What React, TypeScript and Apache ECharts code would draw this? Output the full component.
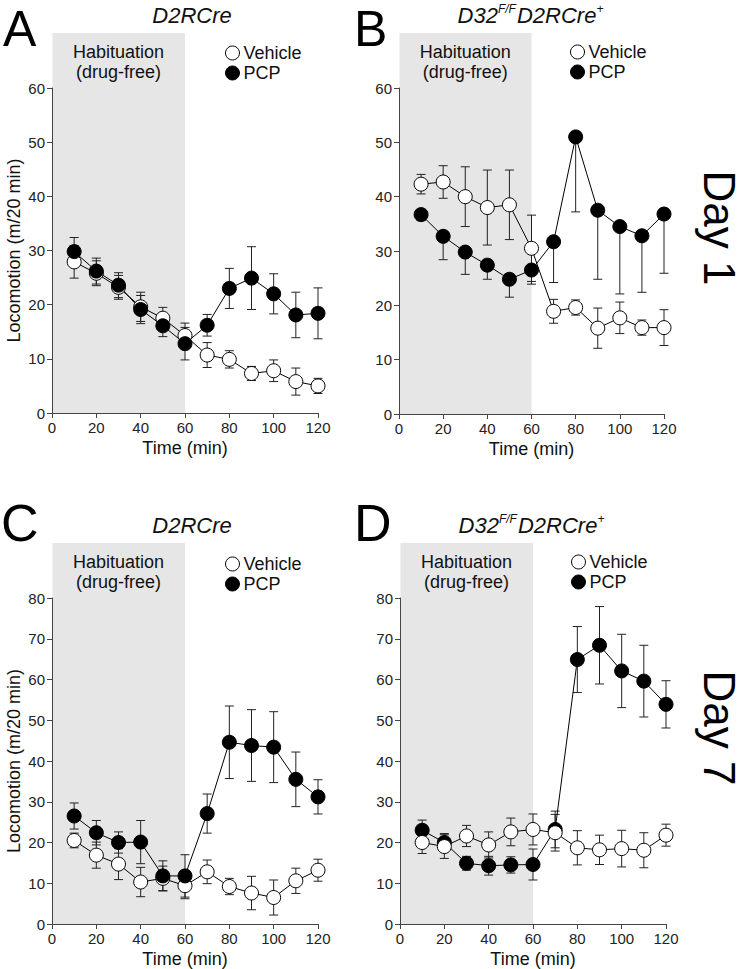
import React, { useEffect, useRef } from 'react';
import * as echarts from 'echarts';

const FONT = 'Liberation Sans, Arial, Helvetica, sans-serif';

// Time points (min)
const times = [10, 20, 30, 40, 50, 60, 70, 80, 90, 100, 110, 120];

// Panel A: Day 1, D2RCre
const vehA = [27.9, 25.8, 23.2, 19.6, 17.5, 14.3, 10.7, 9.9, 7.3, 7.8, 5.8, 5.0];
const vehAErr = [3.0, 2.3, 2.2, 2.7, 2.0, 2.3, 2.3, 1.6, 1.3, 2.0, 2.5, 1.4];
const pcpA = [29.8, 26.2, 23.6, 19.1, 16.1, 12.8, 16.2, 23.0, 24.9, 22.0, 18.1, 18.4];
const pcpAErr = [2.6, 2.4, 2.3, 2.6, 2.0, 3.0, 2.0, 3.7, 5.8, 3.7, 4.2, 4.7];

// Panel B: Day 1, D32F/F D2RCre+
const vehB = [42.3, 42.7, 40.0, 38.0, 38.5, 30.5, 18.9, 19.6, 15.8, 17.7, 15.9, 15.9];
const vehBErr = [1.8, 3.0, 5.5, 6.9, 6.4, 6.1, 2.2, 1.4, 3.7, 2.9, 1.4, 3.3];
const pcpB = [36.7, 32.7, 29.8, 27.4, 24.8, 26.5, 31.7, 51.0, 37.5, 34.5, 32.8, 36.8];
const pcpBErr = [1.1, 4.3, 4.1, 2.6, 3.3, 2.6, 7.5, 13.8, 12.7, 12.4, 10.4, 10.9];

// Panel C: Day 7, D2RCre
const vehC = [20.5, 16.9, 14.7, 10.3, 11.2, 9.4, 12.8, 9.2, 7.6, 6.5, 10.6, 13.2];
const vehCErr = [1.8, 3.2, 3.8, 3.6, 3.0, 3.2, 2.9, 2.0, 4.1, 4.3, 3.1, 2.7];
const pcpC = [26.5, 22.4, 20.0, 20.1, 11.8, 11.8, 27.1, 44.6, 43.8, 43.4, 35.5, 31.2];
const pcpCErr = [3.2, 3.0, 2.6, 5.3, 3.7, 5.2, 4.8, 8.9, 8.8, 8.7, 6.7, 4.2];

// Panel D: Day 7, D32F/F D2RCre+
const vehD = [20.0, 19.0, 21.6, 19.4, 22.6, 23.2, 22.4, 18.7, 18.2, 18.5, 18.1, 21.8];
const vehDErr = [2.7, 2.9, 2.6, 3.2, 3.4, 3.8, 4.5, 4.2, 3.6, 4.5, 4.3, 2.7];
const pcpD = [23.0, 20.0, 14.9, 14.3, 14.5, 14.6, 23.2, 64.9, 68.4, 62.1, 59.6, 53.9];
const pcpDErr = [2.5, 2.2, 1.7, 2.3, 2.0, 3.8, 4.5, 8.1, 9.5, 9.0, 8.8, 5.8];

const habituationEnd = 60;
const panelLetters = ['A', 'B', 'C', 'D'];
const dayLabels = ['Day 1', 'Day 7'];

const panels = [
  { veh: vehA, vehErr: vehAErr, pcp: pcpA, pcpErr: pcpAErr, pcpLowerOnly: false, vehOnTop: false, yMax: 60, yName: 'Locomotion (m/20 min)', title: 'plain',
    grid: { left: 52, top: 88, width: 266, height: 325 }, titleX: 192, titleY: 3, legend: { left: 225, top: 44 }, letter: { x: 3, y: 28.5, size: 50 } },
  { veh: vehB, vehErr: vehBErr, pcp: pcpB, pcpErr: pcpBErr, pcpLowerOnly: true, vehOnTop: false, yMax: 60, yName: '', title: 'mut',
    grid: { left: 399, top: 88, width: 265, height: 326 }, titleX: 531, titleY: 3, legend: { left: 570, top: 43 }, letter: { x: 354, y: 28.5, size: 50 } },
  { veh: vehC, vehErr: vehCErr, pcp: pcpC, pcpErr: pcpCErr, pcpLowerOnly: false, vehOnTop: false, yMax: 80, yName: 'Locomotion (m/20 min)', title: 'plain',
    grid: { left: 52, top: 598, width: 266, height: 327 }, titleX: 192, titleY: 513, legend: { left: 225, top: 555 }, letter: { x: 1, y: 523, size: 52 } },
  { veh: vehD, vehErr: vehDErr, pcp: pcpD, pcpErr: pcpDErr, pcpLowerOnly: false, vehOnTop: true, yMax: 80, yName: '', title: 'mut',
    grid: { left: 400, top: 598, width: 266, height: 327 }, titleX: 532, titleY: 513, legend: { left: 571, top: 553 }, letter: { x: 354, y: 523, size: 52 } },
];

function errRender(params: any, api: any) {
  const x = api.value(0);
  const lo = api.value(1);
  const hi = api.value(2);
  const a = api.coord([x, hi]);
  const b = api.coord([x, lo]);
  const hw = 4.5;
  const style = { stroke: '#222', lineWidth: 1, fill: null };
  return {
    type: 'group',
    children: [
      { type: 'line', shape: { x1: a[0], y1: a[1], x2: b[0], y2: b[1] }, style },
      { type: 'line', shape: { x1: a[0] - hw, y1: a[1], x2: a[0] + hw, y2: a[1] }, style },
      { type: 'line', shape: { x1: b[0] - hw, y1: b[1], x2: b[0] + hw, y2: b[1] }, style },
    ],
  };
}

export default function App() {
  const ref = useRef<HTMLDivElement>(null);
  useEffect(() => {
    if (!ref.current) return;
    const chart = echarts.init(ref.current, null, { renderer: 'svg' });

    const axisLine = { show: true, lineStyle: { color: '#444', width: 1 } };
    const axisTick = { show: true, inside: false, length: 5, lineStyle: { color: '#444', width: 1 } };

    const grid = panels.map((p) => ({ ...p.grid, containLabel: false }));
    const xAxis = panels.map((p, i) => ({
      type: 'value', gridIndex: i, min: 0, max: 120, interval: 20,
      name: 'Time (min)', nameLocation: 'middle', nameGap: 26,
      nameTextStyle: { fontSize: 18, color: '#111', fontFamily: FONT },
      axisLine, axisTick, splitLine: { show: false },
      axisLabel: { fontSize: 15, color: '#222', margin: 7, fontFamily: FONT },
    }));
    const yAxis = panels.map((p, i) => ({
      type: 'value', gridIndex: i, min: 0, max: p.yMax, interval: 10,
      name: p.yName, nameLocation: 'middle', nameGap: 29, nameRotate: 90,
      nameTextStyle: { fontSize: 18, color: '#111', fontFamily: FONT },
      axisLine, axisTick, splitLine: { show: false },
      axisLabel: { fontSize: 15, color: '#222', margin: 7, fontFamily: FONT },
    }));

    const series: any[] = [];
    panels.forEach((p, i) => {
      const errSeries = (mean: number[], err: number[], lowerOnly: boolean) => ({
        type: 'custom', xAxisIndex: i, yAxisIndex: i, z: 1, silent: true,
        renderItem: errRender,
        encode: { x: 0, y: [1, 2] },
        data: times.map((t, k) => [t, mean[k] - err[k], lowerOnly ? mean[k] : mean[k] + err[k]]),
      });
      series.push(errSeries(p.veh, p.vehErr, false));
      series.push(errSeries(p.pcp, p.pcpErr, p.pcpLowerOnly));
      const vehSeries = {
        type: 'line', name: 'Vehicle', xAxisIndex: i, yAxisIndex: i,
        data: times.map((t, k) => [t, p.veh[k]]),
        symbol: 'circle', symbolSize: 14, showSymbol: true, z: 3,
        itemStyle: { color: '#fff', borderColor: '#000', borderWidth: 1 },
        lineStyle: { color: '#000', width: 1 },
      };
      const pcpSeries = {
        type: 'line', name: 'PCP', xAxisIndex: i, yAxisIndex: i,
        data: times.map((t, k) => [t, p.pcp[k]]),
        symbol: 'circle', symbolSize: 14, showSymbol: true, z: 3,
        itemStyle: { color: '#000', borderColor: '#000', borderWidth: 1 },
        lineStyle: { color: '#000', width: 1 },
      };
      if (p.vehOnTop) { series.push(pcpSeries); series.push(vehSeries); }
      else { series.push(vehSeries); series.push(pcpSeries); }
    });

    const legend = panels.map((p) => ({
      left: p.legend.left, top: p.legend.top, orient: 'vertical', padding: 0,
      itemWidth: 14, itemHeight: 14, itemGap: 2, icon: 'circle', selectedMode: false,
      textStyle: { fontSize: 18, lineHeight: 18, color: '#111', fontFamily: FONT, padding: [0, 0, 0, -1] },
      data: [
        { name: 'Vehicle', itemStyle: { color: '#fff', borderColor: '#000', borderWidth: 1 } },
        { name: 'PCP', itemStyle: { color: '#000', borderColor: '#000', borderWidth: 1 } },
      ],
    }));

    const title = panels.map((p) => ({
      text: p.title === 'plain' ? '{m|D2RCre}' : '{m|D32}{s|F/F}{m|D2RCre}{s|+}',
      left: p.titleX, top: p.titleY, textAlign: 'center', padding: 0,
      textStyle: {
        fontFamily: FONT, fontSize: 22, fontStyle: 'italic', fontWeight: 'normal', color: '#111',
        rich: {
          m: { fontFamily: FONT, fontSize: 22, fontStyle: 'italic', fontWeight: 'normal', color: '#111', lineHeight: 24 },
          s: { fontFamily: FONT, fontSize: 12, fontStyle: 'italic', fontWeight: 'normal', color: '#111', lineHeight: 24, verticalAlign: 'top', padding: [0, 1, 0, 0] },
        },
      },
    }));

    chart.setOption({
      animation: false,
      backgroundColor: '#fff',
      title, legend, grid, xAxis, yAxis, series,
    });

    const graphic: any[] = [];
    panels.forEach((p, i) => {
      const p0 = chart.convertToPixel({ gridIndex: i } as any, [0, 0]) as number[];
      const p1 = chart.convertToPixel({ gridIndex: i } as any, [habituationEnd, 0]) as number[];
      const bandTop = p.grid.top - 55;
      graphic.push({
        type: 'rect', z: -10, silent: true,
        shape: { x: p0[0] + 0.5, y: bandTop, width: p1[0] - p0[0] - 0.5, height: p0[1] - bandTop },
        style: { fill: '#e6e6e6' },
      });
      graphic.push({
        type: 'text', z: 5, silent: true,
        x: (p0[0] + p1[0]) / 2, y: p.grid.top - 26,
        style: { text: 'Habituation\n(drug-free)', font: `18px ${FONT}`, fill: '#111', align: 'center', verticalAlign: 'middle', lineHeight: 20 },
      });
      graphic.push({
        type: 'text', z: 5, silent: true,
        x: p.letter.x, y: p.letter.y,
        style: { text: panelLetters[i], font: `${p.letter.size}px ${FONT}`, fill: '#000', align: 'left', verticalAlign: 'middle' },
      });
    });
    graphic.push({
      type: 'text', z: 5, silent: true, x: 719, y: 228, rotation: -Math.PI / 2,
      style: { text: dayLabels[0], font: `44px ${FONT}`, fill: '#000', align: 'center', verticalAlign: 'middle' },
    });
    graphic.push({
      type: 'text', z: 5, silent: true, x: 719, y: 728, rotation: -Math.PI / 2,
      style: { text: dayLabels[1], font: `44px ${FONT}`, fill: '#000', align: 'center', verticalAlign: 'middle' },
    });
    chart.setOption({ graphic });

    return () => chart.dispose();
  }, []);
  return (
    <div
      ref={ref}
      style={{ position: 'absolute', left: 0, top: 0, width: 742, height: 969, background: '#fff' }}
    />
  );
}
